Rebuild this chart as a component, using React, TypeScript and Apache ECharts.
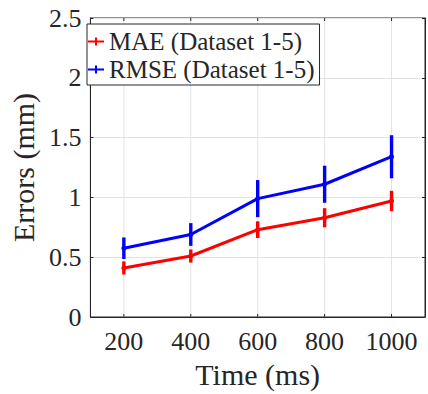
import React, { useEffect, useRef } from "react";
import * as echarts from "echarts";

const timeMs = [200, 400, 600, 800, 1000];
const maeMean = [0.41, 0.51, 0.73, 0.83, 0.97];
const maeErr = [0.055, 0.055, 0.07, 0.08, 0.085];
const rmseMean = [0.575, 0.69, 0.99, 1.11, 1.34];
const rmseErr = [0.09, 0.095, 0.155, 0.155, 0.18];
const seriesNames = ["MAE (Dataset 1-5)", "RMSE (Dataset 1-5)"];
const yTicks = [0, 0.5, 1, 1.5, 2, 2.5];

const FONT = "Liberation Serif";
const AX = "#262626";
const GRID = "#e3e3e3";
const RED = "#ff0000";
const BLUE = "#0000ff";
const ICON = "path://M0,3h16v2h-16z M7,0h2v8h-2z";

function errData(mean: number[], err: number[]) {
  return timeMs.map((t, i) => [t, mean[i] - err[i], mean[i] + err[i]]);
}

function errSeries(name: string, mean: number[], err: number[], color: string) {
  return {
    type: "custom",
    name: name + " err",
    z: 4,
    silent: true,
    data: errData(mean, err),
    renderItem: (params: any, api: any) => {
      const x = api.value(0);
      const p1 = api.coord([x, api.value(1)]);
      const p2 = api.coord([x, api.value(2)]);
      return {
        type: "line",
        shape: { x1: p1[0], y1: p1[1], x2: p2[0], y2: p2[1] },
        style: { stroke: color, lineWidth: 3.4 },
      };
    },
  };
}

export default function App() {
  const ref = useRef<HTMLDivElement>(null);
  useEffect(() => {
    const chart = echarts.init(ref.current!, null, { renderer: "svg" });
    const yMin = yTicks[0];
    const yMax = yTicks[yTicks.length - 1];
    chart.setOption({
      animation: false,
      backgroundColor: "#ffffff",
      grid: {
        left: 82,
        top: 18,
        width: 345,
        height: 300,
        show: true,
        borderColor: AX,
        borderWidth: 1,
        backgroundColor: "transparent",
      },
      legend: {
        data: seriesNames.map((n) => ({ name: n, icon: ICON })),
        orient: "vertical",
        left: 87,
        top: 24,
        itemWidth: 16,
        itemHeight: 8,
        itemGap: 3,
        padding: [5, 5, 3, 1],
        borderColor: AX,
        borderWidth: 1,
        backgroundColor: "#ffffff",
        textStyle: { fontFamily: FONT, fontSize: 25, color: AX },
      },
      xAxis: {
        type: "value",
        min: 100,
        max: 1100,
        interval: 100,
        name: "Time (ms)",
        nameLocation: "middle",
        nameGap: 42,
        nameTextStyle: { fontFamily: FONT, fontSize: 30, color: AX },
        axisLine: { show: true, lineStyle: { color: AX, width: 1 } },
        axisTick: { show: false },
        splitLine: { show: false },
        axisLabel: {
          fontFamily: FONT,
          fontSize: 26,
          color: AX,
          margin: 11,
          formatter: (v: number) => (timeMs.indexOf(v) >= 0 ? String(v) : ""),
        },
      },
      yAxis: [
        {
          type: "value",
          min: yMin,
          max: yMax,
          interval: 0.5,
          name: "Errors (mm)",
          nameLocation: "middle",
          nameGap: 50,
          nameTextStyle: { fontFamily: FONT, fontSize: 30, color: AX },
          axisLine: { show: true, lineStyle: { color: AX, width: 1 } },
          axisTick: { show: true, inside: true, length: 3, lineStyle: { color: AX } },
          splitLine: { show: true, lineStyle: { color: GRID, width: 1 } },
          axisLabel: { fontFamily: FONT, fontSize: 26, color: AX, margin: 9 },
        },
        {
          type: "value",
          position: "right",
          min: yMin,
          max: yMax,
          interval: 0.5,
          axisLine: { show: true, lineStyle: { color: AX, width: 1 } },
          axisTick: { show: true, inside: true, length: 3, lineStyle: { color: AX } },
          splitLine: { show: false },
          axisLabel: { show: false },
        },
      ],
      series: [
        {
          type: "custom",
          name: "xgrid",
          z: 1,
          silent: true,
          data: timeMs.map((t) => [t]),
          renderItem: (params: any, api: any) => {
            const x = api.value(0);
            const b = api.coord([x, yMin]);
            const t = api.coord([x, yMax]);
            return {
              type: "group",
              children: [
                {
                  type: "line",
                  shape: { x1: b[0], y1: b[1], x2: t[0], y2: t[1] },
                  style: { stroke: GRID, lineWidth: 1 },
                },
                {
                  type: "line",
                  shape: { x1: b[0], y1: b[1], x2: b[0], y2: b[1] - 3 },
                  style: { stroke: AX, lineWidth: 1 },
                },
                {
                  type: "line",
                  shape: { x1: t[0], y1: t[1], x2: t[0], y2: t[1] + 3 },
                  style: { stroke: AX, lineWidth: 1 },
                },
              ],
            };
          },
        },
        {
          type: "line",
          name: seriesNames[0],
          z: 3,
          color: RED,
          data: timeMs.map((t, i) => [t, maeMean[i]]),
          symbol: "circle",
          symbolSize: 5,
          showSymbol: true,
          lineStyle: { color: RED, width: 3 },
          itemStyle: { color: RED },
        },
        {
          type: "line",
          name: seriesNames[1],
          z: 3,
          color: BLUE,
          data: timeMs.map((t, i) => [t, rmseMean[i]]),
          symbol: "circle",
          symbolSize: 5,
          showSymbol: true,
          lineStyle: { color: BLUE, width: 3 },
          itemStyle: { color: BLUE },
        },
        errSeries(seriesNames[0], maeMean, maeErr, RED),
        errSeries(seriesNames[1], rmseMean, rmseErr, BLUE),
      ],
    });
    return () => chart.dispose();
  }, []);
  return <div ref={ref} style={{ width: 428, height: 394, position: "absolute", left: 0, top: 0 }} />;
}
